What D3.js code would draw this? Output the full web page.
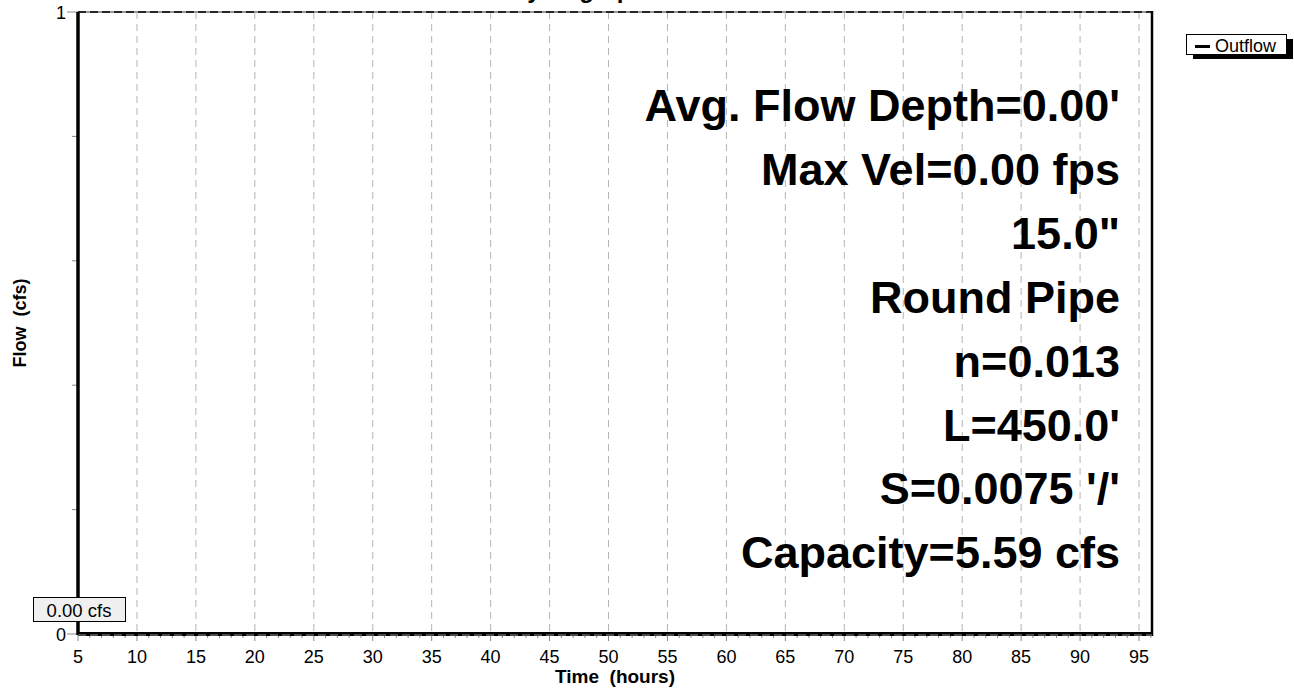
<!DOCTYPE html>
<html>
<head>
<meta charset="utf-8">
<script src="https://cdn.jsdelivr.net/npm/d3@7"></script>
<style>
  body { margin: 0; background: #fff; }
  svg { display: block; font-family: "Liberation Sans", Arial, Helvetica, sans-serif; }
  text { white-space: pre; }
</style>
</head>
<body>
<svg width="1294" height="689"></svg>
<script>
// chart data
const timeHours = [5, 96.1];
const outflowCfs = [0, 0];
const xTickValues = [5, 10, 15, 20, 25, 30, 35, 40, 45, 50, 55, 60, 65, 70, 75, 80, 85, 90, 95];
const yTickValues = [0, 0.2, 0.4, 0.6, 0.8, 1];
const yLabelValues = [0, 1];
const infoLines = ["Avg. Flow Depth=0.00'", "Max Vel=0.00 fps", "15.0\"", "Round Pipe",
                   "n=0.013", "L=450.0'", "S=0.0075 '/'", "Capacity=5.59 cfs"];
const peakLabel = "0.00 cfs";
const legendNames = ["Outflow"];

const svg = d3.select('svg');
const plotLeft = 78, plotRight = 1152, plotTop = 12, plotBottom = 634;

const x = d3.scaleLinear().domain([5, 96.1]).range([plotLeft, plotRight]);
const y = d3.scaleLinear().domain([0, 1]).range([plotBottom, plotTop]);

// title (cut off at the top edge in the original too)
svg.append('text')
    .attr('x', 510).attr('y', -2)
    .attr('font-size', 24).attr('font-weight', 'bold')
    .text('Hydrograph');

// vertical dashed gridlines
svg.append('g').selectAll('line')
    .data(xTickValues.filter(d => d > 5))
    .enter().append('line')
    .attr('x1', d => x(d)).attr('x2', d => x(d))
    .attr('y1', plotTop).attr('y2', plotBottom)
    .attr('stroke', '#b4b4b4').attr('stroke-width', 1)
    .attr('stroke-dasharray', '7,5');

// top line: grey with black dashes
svg.append('line')
    .attr('x1', plotLeft).attr('x2', plotRight).attr('y1', plotTop).attr('y2', plotTop)
    .attr('stroke', '#999').attr('stroke-width', 2);
svg.append('line')
    .attr('x1', plotLeft).attr('x2', plotRight).attr('y1', plotTop).attr('y2', plotTop)
    .attr('stroke', '#000').attr('stroke-width', 1.5)
    .attr('stroke-dasharray', '8,4');

// right border
svg.append('line')
    .attr('x1', plotRight).attr('x2', plotRight).attr('y1', plotTop - 1).attr('y2', plotBottom + 2)
    .attr('stroke', '#000').attr('stroke-width', 2.5);

// x axis minor + major ticks
const minor = d3.range(5, 97, 1);
svg.append('g').selectAll('line')
    .data(minor)
    .enter().append('line')
    .attr('x1', d => x(d)).attr('x2', d => x(d))
    .attr('y1', plotBottom).attr('y2', d => plotBottom + (d % 5 === 0 ? 7 : 4))
    .attr('stroke', '#888').attr('stroke-width', 1);

svg.append('g').selectAll('text')
    .data(xTickValues)
    .enter().append('text')
    .attr('x', d => x(d)).attr('y', 663)
    .attr('text-anchor', 'middle').attr('font-size', 18)
    .text(d => d);

svg.append('text')
    .attr('x', 615).attr('y', 683)
    .attr('text-anchor', 'middle').attr('font-size', 19).attr('font-weight', 'bold')
    .text('Time  (hours)');

// y axis ticks
svg.append('g').selectAll('line')
    .data(yTickValues)
    .enter().append('line')
    .attr('x1', d => (d === 0 || d === 1) ? plotLeft - 11 : plotLeft - 6).attr('x2', plotLeft)
    .attr('y1', d => y(d)).attr('y2', d => y(d))
    .attr('stroke', '#888').attr('stroke-width', 1);

svg.append('g').selectAll('text')
    .data(yLabelValues)
    .enter().append('text')
    .attr('x', 66).attr('y', d => y(d) + 7)
    .attr('text-anchor', 'end').attr('font-size', 18)
    .text(d => d);

svg.append('text')
    .attr('transform', 'translate(26,' + ((plotTop + plotBottom) / 2) + ') rotate(-90)')
    .attr('text-anchor', 'middle').attr('font-size', 18).attr('font-weight', 'bold')
    .text('Flow  (cfs)');

// left axis line
svg.append('line')
    .attr('x1', plotLeft).attr('x2', plotLeft).attr('y1', plotTop).attr('y2', plotBottom + 1)
    .attr('stroke', '#000').attr('stroke-width', 3.5);

// outflow series
const line = d3.line().x((d, i) => x(timeHours[i])).y(d => y(d));
svg.append('path')
    .attr('d', line(outflowCfs))
    .attr('fill', 'none').attr('stroke', '#000').attr('stroke-width', 4);

// dashed grid over the flow line
svg.append('line')
    .attr('x1', plotLeft).attr('x2', plotRight).attr('y1', plotBottom + 1).attr('y2', plotBottom + 1)
    .attr('stroke', '#999').attr('stroke-width', 1)
    .attr('stroke-dasharray', '8,4');

// peak label box
const pk = svg.append('g');
pk.append('rect')
    .attr('x', 33.5).attr('y', 597.5).attr('width', 92).attr('height', 24)
    .attr('fill', '#f0f0f0').attr('stroke', '#000').attr('stroke-width', 1);
pk.append('text')
    .attr('x', 79).attr('y', 616.5)
    .attr('text-anchor', 'middle').attr('font-size', 18.5)
    .text(peakLabel);

// info text block
svg.append('g').selectAll('text')
    .data(infoLines)
    .enter().append('text')
    .attr('x', 1120).attr('y', (d, i) => 121 + i * 63.9)
    .attr('text-anchor', 'end').attr('font-size', 45).attr('font-weight', 'bold')
    .text(d => d);

// legend
const lg = svg.append('g');
lg.append('rect')
    .attr('x', 1193).attr('y', 39).attr('width', 100).attr('height', 20)
    .attr('fill', '#000');
lg.append('rect')
    .attr('x', 1186.5).attr('y', 34.5).attr('width', 100).attr('height', 20)
    .attr('fill', '#fff').attr('stroke', '#000').attr('stroke-width', 1);
lg.selectAll('line.key')
    .data(legendNames)
    .enter().append('line')
    .attr('x1', 1195).attr('x2', 1210).attr('y1', 46.5).attr('y2', 46.5)
    .attr('stroke', '#000').attr('stroke-width', 3);
lg.selectAll('text')
    .data(legendNames)
    .enter().append('text')
    .attr('x', 1215).attr('y', 51.5)
    .attr('font-size', 18)
    .text(d => d);
</script>
</body>
</html>
